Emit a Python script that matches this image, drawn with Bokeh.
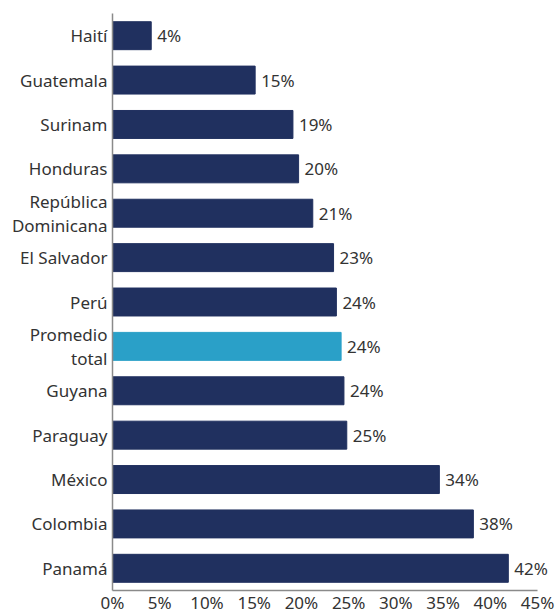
from bokeh.plotting import figure
from bokeh.models import ColumnDataSource, FixedTicker, Range1d, LabelSet
from bokeh.embed import file_html
from bokeh.resources import INLINE
from bokeh.core.properties import value

countries = ["Haití", "Guatemala", "Surinam", "Honduras", "República\nDominicana",
             "El Salvador", "Perú", "Promedio\ntotal", "Guyana", "Paraguay",
             "México", "Colombia", "Panamá"]
shares = [4.1, 15.1, 19.1, 19.7, 21.2, 23.4, 23.7, 24.2, 24.5, 24.8, 34.6, 38.2, 41.9]
labels = ["4%", "15%", "19%", "20%", "21%", "23%", "24%", "24%", "24%", "25%", "34%", "38%", "42%"]
highlight = "Promedio\ntotal"
x_ticks = [0, 5, 10, 15, 20, 25, 30, 35, 40, 45]

NAVY = "#20305f"
LIGHT = "#2aa0c8"
FONT = "Noto Sans"
TXT = "#333333"

n = len(countries)
ypos = [n - 1 - i for i in range(n)]
colors = [LIGHT if c == highlight else NAVY for c in countries]

src = ColumnDataSource(dict(y=ypos, x=shares, lab=labels, color=colors))

p = figure(width=557, height=616, output_backend="svg", toolbar_location=None,
           x_range=Range1d(0, 47), y_range=Range1d(-0.5, n - 0.5),
           min_border_left=112, min_border_right=1, min_border_top=13, min_border_bottom=23)

p.hbar(y="y", right="x", left=0, height=0.63, fill_color="color", line_color="color", source=src)
p.add_layout(LabelSet(x="x", y="y", text="lab", source=src, x_offset=6, text_baseline="middle",
                      text_align="left", text_font=value(FONT), text_font_size="17px",
                      text_color=TXT))

p.xgrid.visible = False
p.ygrid.visible = False
p.outline_line_color = None
p.background_fill_color = "white"
p.border_fill_color = "white"

p.xaxis.ticker = FixedTicker(ticks=x_ticks)
p.xaxis.bounds = (0, 45)
p.xaxis.major_label_overrides = {t: f"{t}%" for t in x_ticks}
p.yaxis.ticker = FixedTicker(ticks=ypos)
p.yaxis.major_label_overrides = {y: c for y, c in zip(ypos, countries)}

for ax in (p.xaxis[0], p.yaxis[0]):
    ax.axis_line_color = "#8a8a8a"
    ax.axis_line_width = 1.5
    ax.major_tick_line_color = None
    ax.minor_tick_line_color = None
    ax.major_tick_out = 0
    ax.major_tick_in = 0
    ax.minor_tick_out = 0
    ax.major_label_text_font = FONT
    ax.major_label_text_font_size = "17px"
    ax.major_label_text_color = TXT
    ax.major_label_text_line_height = 1.05
    ax.major_label_standoff = 5
p.xaxis.major_label_standoff = 0

open("out.html", "w").write(file_html(p, INLINE))
